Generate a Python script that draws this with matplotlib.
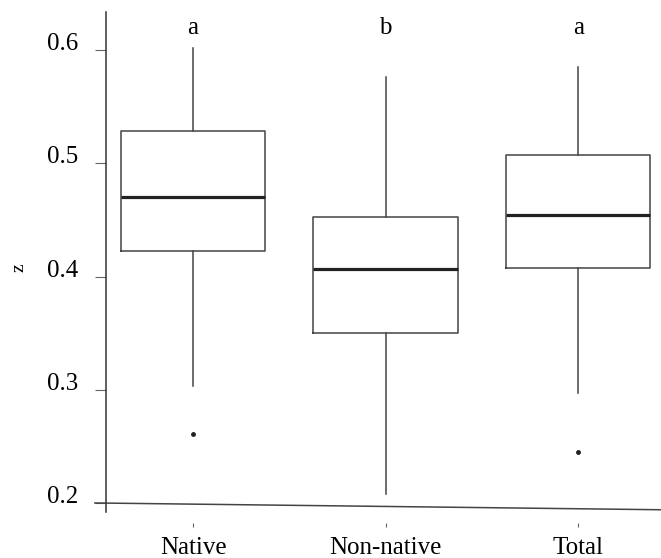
import matplotlib.pyplot as plt
from matplotlib.lines import Line2D

plt.rcParams["font.family"] = ["Liberation Serif", "DejaVu Serif"]

groups = ["Native", "Non-native", "Total"]
letters = ["a", "b", "a"]
whis_low = [0.303, 0.208, 0.297]
q1 = [0.4225, 0.350, 0.4075]
medians = [0.470, 0.407, 0.454]
q3 = [0.5285, 0.4525, 0.507]
whis_high = [0.602, 0.576, 0.585]
outliers = [[0.261], [], [0.245]]
yticks = [0.2, 0.3, 0.4, 0.5, 0.6]

stats = []
for i, g in enumerate(groups):
    stats.append({
        "label": g,
        "whislo": whis_low[i],
        "q1": q1[i],
        "med": medians[i],
        "q3": q3[i],
        "whishi": whis_high[i],
        "fliers": outliers[i],
    })

fig = plt.figure(figsize=(6.61, 5.58), dpi=100)
ax = fig.add_axes([106 / 661, 35 / 558, 555 / 661, 511 / 558])

ax.bxp(stats, positions=[1, 2, 3], widths=0.75, showcaps=False,
       boxprops=dict(color="#444444", linewidth=1.1),
       whiskerprops=dict(color="#444444", linewidth=1.1),
       medianprops=dict(color="#222222", linewidth=2.3),
       flierprops=dict(marker="o", markersize=2.5, markerfacecolor="#222222",
                       markeredgecolor="#222222"))

ax.set_xlim(0.548, 3.43)
ax.set_ylim(0.1823, 0.6336)

for spine in ["top", "right", "bottom"]:
    ax.spines[spine].set_visible(False)
ax.spines["left"].set_bounds(0.192, 0.6336)
ax.spines["left"].set_color("#333333")
ax.spines["left"].set_linewidth(1.1)

# horizontal base line at 0.2
base = Line2D([-0.02, 1.0], [0.2, 0.194], transform=ax.get_yaxis_transform(),
              color="#444444", linewidth=1.1, clip_on=False)
ax.add_line(base)

ax.set_yticks(yticks)
ax.set_yticklabels([f"{t:.1f}" for t in yticks])
ax.tick_params(axis="y", length=8, width=0.8, color="#666666", pad=12,
               labelsize=18)
for lab in ax.get_yticklabels():
    lab.set_va("baseline")

ax.set_xticks([1, 2, 3])
ax.set_xticklabels(groups)
ax.tick_params(axis="x", length=3, width=0.8, color="#666666", pad=7,
               labelsize=18)

ax.set_ylabel("z", fontsize=14, labelpad=14)

for i, l in enumerate(letters):
    ax.text(i + 1, 0.614, l, ha="center", va="baseline", fontsize=18)

fig.savefig("out.png", dpi=100)
